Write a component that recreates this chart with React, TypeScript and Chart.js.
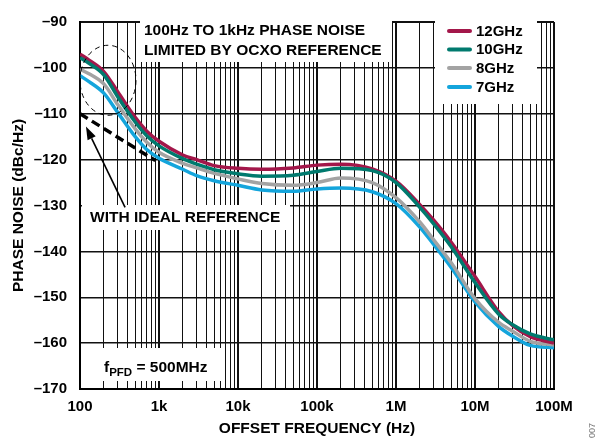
import React, { useEffect, useRef } from "react";
import { Chart, registerables } from "chart.js";

Chart.register(...registerables);

// ---------- data ----------
const FREQ_HZ = [
  100, 130, 200, 300, 500, 700, 1e3, 2e3, 3e3, 5e3, 1e4, 2e4, 5e4, 1e5, 2e5,
  5e5, 1e6, 2e6, 3e6, 5e6, 1e7, 2e7, 3e7, 5e7, 1e8,
];
const PN_12GHZ = [
  -97, -98.3, -100.8, -105.2, -110.8, -113.8, -116, -119, -120, -121.3, -121.9,
  -122.1, -121.8, -121.2, -121, -122, -124.7, -129.8, -133.2, -138, -145.5,
  -153.2, -156.2, -158.6, -160,
];
const PN_10GHZ = [
  -97.8, -99, -101.5, -106.3, -111.8, -114.8, -117, -119.8, -121, -122.2,
  -123.1, -123.6, -123.4, -122.6, -121.9, -122.4, -125, -130.4, -134, -139,
  -146.8, -153.7, -156, -158, -159.3,
];
const PN_8GHZ = [
  -100.3, -101.3, -103.5, -108, -113.3, -116.2, -118.4, -120.8, -121.8, -123,
  -124.2, -125.2, -125.6, -125, -124, -125, -128.3, -133.6, -137.5, -142.5,
  -150.3, -155.5, -157.4, -159.6, -160.4,
];
const PN_7GHZ = [
  -101.7, -103, -105.5, -109.7, -115, -117.8, -119.7, -122.1, -123.5, -124.6,
  -125.6, -126.6, -126.9, -126.4, -126.2, -127, -129.6, -134.7, -138.5, -143.5,
  -151, -156.4, -158.5, -160.5, -161,
];
const IDEAL_FREQ_HZ = [100, 900];
const IDEAL_PN = [-110, -120.2];

const SERIES_LABELS = ["12GHz", "10GHz", "8GHz", "7GHz"];
const SERIES_COLORS = ["#A3174A", "#007A6E", "#A3A3A3", "#14A5DC"];

const X_TICK_VALUES = [1e2, 1e3, 1e4, 1e5, 1e6, 1e7, 1e8];
const X_TICK_LABELS = ["100", "1k", "10k", "100k", "1M", "10M", "100M"];
const Y_MIN = -170;
const Y_MAX = -90;
const Y_STEP = 10;

const FONT_FAMILY = '"Liberation Sans", Arial, Helvetica, sans-serif';

const toPoints = (xs: number[], ys: number[]) =>
  xs.map((x, i) => ({ x, y: ys[i] }));

// ---------- annotation plugin ----------
const annotationPlugin = {
  id: "annotations",
  beforeDatasetsDraw(chart: any) {
    const ctx = chart.ctx as CanvasRenderingContext2D;
    ctx.save();
    ctx.fillStyle = "#fff";
    // white boxes hiding the grid
    ctx.fillRect(140, 15, 252, 47);
    ctx.fillRect(435, 15, 102, 89);
    ctx.fillRect(82, 205, 208, 25);
    ctx.fillRect(98, 348, 124, 33);

    ctx.fillStyle = "#000";
    ctx.textBaseline = "middle";
    ctx.textAlign = "left";
    ctx.font = `bold 15.5px ${FONT_FAMILY}`;
    ctx.fillText("100Hz TO 1kHz PHASE NOISE", 144, 31);
    ctx.fillText("LIMITED BY OCXO REFERENCE", 144, 50.5);
    ctx.fillText("WITH IDEAL REFERENCE", 90, 217.5);

    // f_PFD = 500MHz
    ctx.textBaseline = "alphabetic";
    let x = 104;
    ctx.font = `bold 15.5px ${FONT_FAMILY}`;
    ctx.fillText("f", x, 371.5);
    x += ctx.measureText("f").width;
    ctx.font = `bold 11.5px ${FONT_FAMILY}`;
    ctx.fillText("PFD", x, 376);
    x += ctx.measureText("PFD").width;
    ctx.font = `bold 15.5px ${FONT_FAMILY}`;
    ctx.fillText(" = 500MHz", x, 371.5);

    // legend
    ctx.textBaseline = "middle";
    ctx.font = `bold 15px ${FONT_FAMILY}`;
    const legendY = [31, 49.5, 68, 87];
    chart.data.datasets.slice(0, 4).forEach((ds: any, i: number) => {
      ctx.strokeStyle = ds.borderColor;
      ctx.lineWidth = 4;
      ctx.lineCap = "round";
      ctx.beginPath();
      ctx.moveTo(449, legendY[i]);
      ctx.lineTo(470, legendY[i]);
      ctx.stroke();
      ctx.fillStyle = "#000";
      ctx.fillText(ds.label, 476, legendY[i] + 0.5);
    });
    ctx.restore();
  },
  afterDatasetsDraw(chart: any) {
    const ctx = chart.ctx as CanvasRenderingContext2D;
    const xs = chart.scales.x;
    const ys = chart.scales.y;
    ctx.save();
    // dashed ellipse
    const cx = xs.getPixelForValue(226);
    const cy = ys.getPixelForValue(-102.7);
    ctx.strokeStyle = "#000";
    ctx.lineWidth = 1;
    ctx.setLineDash([5, 4]);
    ctx.beginPath();
    ctx.ellipse(cx, cy, 28, 35, 0, 0, Math.PI * 2);
    ctx.stroke();
    ctx.setLineDash([]);

    // arrow
    const tx = xs.getPixelForValue(372);
    const ty = ys.getPixelForValue(-130.4);
    const hx = xs.getPixelForValue(119);
    const hy = ys.getPixelForValue(-112.8);
    const ang = Math.atan2(hy - ty, hx - tx);
    const len = 13;
    const bx = hx - Math.cos(ang) * len;
    const by = hy - Math.sin(ang) * len;
    ctx.lineWidth = 1.6;
    ctx.beginPath();
    ctx.moveTo(tx, ty);
    ctx.lineTo(bx, by);
    ctx.stroke();
    ctx.fillStyle = "#000";
    ctx.beginPath();
    ctx.moveTo(hx, hy);
    ctx.lineTo(bx + Math.sin(ang) * 4.5, by - Math.cos(ang) * 4.5);
    ctx.lineTo(bx - Math.sin(ang) * 4.5, by + Math.cos(ang) * 4.5);
    ctx.closePath();
    ctx.fill();

    // figure id
    ctx.translate(593, 423);
    ctx.rotate(-Math.PI / 2);
    ctx.font = `9px ${FONT_FAMILY}`;
    ctx.fillStyle = "#777";
    ctx.textAlign = "right";
    ctx.textBaseline = "middle";
    ctx.fillText("007", 0, 0);
    ctx.restore();
  },
};

export default function App() {
  const canvasRef = useRef<HTMLCanvasElement | null>(null);

  useEffect(() => {
    const canvas = canvasRef.current;
    if (!canvas) return;
    const seriesData = [PN_12GHZ, PN_10GHZ, PN_8GHZ, PN_7GHZ];
    const drawOrder = [1, 0, 2, 3];
    const datasets: any[] = seriesData.map((ys, i) => ({
      label: SERIES_LABELS[i],
      data: toPoints(FREQ_HZ, ys),
      borderColor: SERIES_COLORS[i],
      backgroundColor: SERIES_COLORS[i],
      borderWidth: 3.5,
      pointRadius: 0,
      cubicInterpolationMode: "monotone",
      order: drawOrder[i],
    }));
    datasets.push({
      label: "ideal",
      data: toPoints(IDEAL_FREQ_HZ, IDEAL_PN),
      borderColor: "#000",
      borderWidth: 3.5,
      borderDash: [9, 5],
      pointRadius: 0,
      order: 5,
    });

    const chart = new Chart(canvas, {
      type: "line",
      data: { datasets },
      plugins: [annotationPlugin],
      options: {
        animation: false,
        responsive: false,
        maintainAspectRatio: false,
        layout: { padding: { left: 0, top: 13, right: 45, bottom: 0 } },
        plugins: {
          legend: { display: false },
          tooltip: { enabled: false },
        },
        scales: {
          x: {
            type: "logarithmic",
            min: 1e2,
            max: 1e8,
            afterFit: (s: any) => {
              s.height = 57;
            },
            afterBuildTicks: (s: any) => {
              const t: any[] = [];
              for (let d = 2; d < 8; d++) {
                for (let m = 1; m <= 9; m++) t.push({ value: m * Math.pow(10, d) });
              }
              t.push({ value: 1e8 });
              s.ticks = t;
            },
            ticks: {
              autoSkip: false,
              maxRotation: 0,
              padding: 9,
              color: "#000",
              font: { family: FONT_FAMILY, size: 15, weight: "bold" },
              callback: (v: any) => {
                const idx = X_TICK_VALUES.findIndex(
                  (t) => Math.abs(t - Number(v)) / t < 1e-6
                );
                return idx >= 0 ? X_TICK_LABELS[idx] : "";
              },
            },
            grid: {
              color: "#111",
              drawTicks: false,
              lineWidth: (c: any) => {
                const v = c.tick ? c.tick.value : 0;
                return X_TICK_VALUES.some((t) => Math.abs(t - v) / t < 1e-6) ? 2 : 1;
              },
            },
            border: { display: true, color: "#000", width: 2 },
            title: {
              display: true,
              text: "OFFSET FREQUENCY (Hz)",
              color: "#000",
              font: { family: FONT_FAMILY, size: 15.5, weight: "bold" },
              padding: { top: 0, bottom: 8 },
            },
          },
          y: {
            type: "linear",
            min: Y_MIN,
            max: Y_MAX,
            afterFit: (s: any) => {
              s.width = 80;
            },
            ticks: {
              stepSize: Y_STEP,
              padding: 13,
              color: "#000",
              font: { family: FONT_FAMILY, size: 15, weight: "bold" },
              callback: (v: any) => String(v).replace("-", "\u2013"),
            },
            grid: {
              color: "#111",
              drawTicks: false,
              lineWidth: (c: any) => {
                const v = c.tick ? c.tick.value : 0;
                return v === Y_MAX || v === Y_MIN ? 2 : 1.5;
              },
            },
            border: { display: true, color: "#000", width: 2 },
            title: {
              display: true,
              text: "PHASE NOISE (dBc/Hz)",
              color: "#000",
              font: { family: FONT_FAMILY, size: 15.5, weight: "bold" },
              padding: { top: 9.5, bottom: 0 },
            },
          },
        },
      },
    });
    return () => chart.destroy();
  }, []);

  return (
    <div
      style={{
        position: "absolute",
        left: 0,
        top: 0,
        width: 599,
        height: 446,
        background: "#fff",
      }}
    >
      <canvas
        ref={canvasRef}
        width={599}
        height={446}
        style={{ width: 599, height: 446, display: "block" }}
      />
    </div>
  );
}
